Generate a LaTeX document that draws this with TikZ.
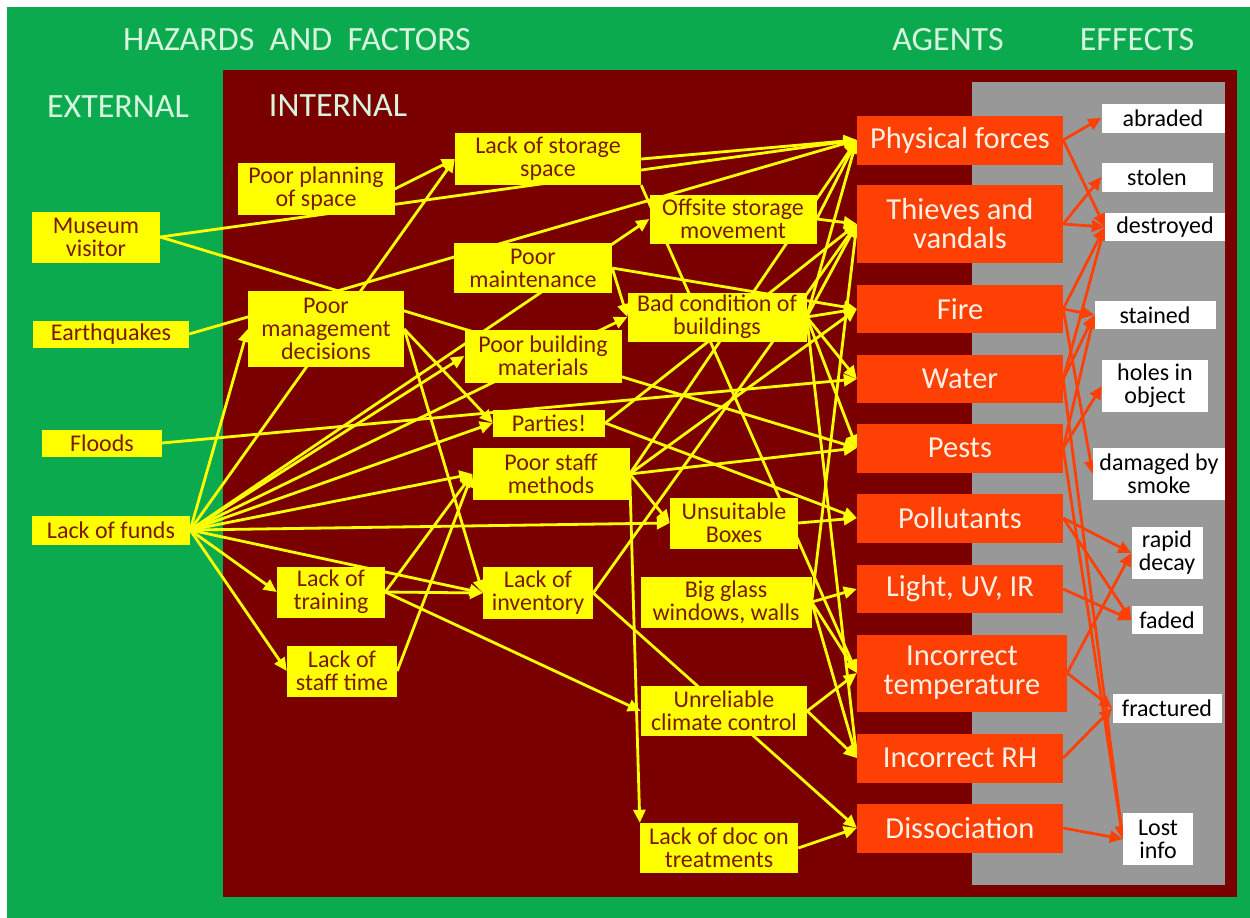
\documentclass[tikz,border=0pt]{standalone}
\usepackage{fontspec}
\setmainfont{Carlito}
\usetikzlibrary{arrows.meta}
\pgfdeclarelayer{bg}
\pgfdeclarelayer{edges}
\pgfsetlayers{bg,edges,main}
\definecolor{grn}{RGB}{11,170,78}
\definecolor{mar}{RGB}{122,0,0}
\definecolor{gry}{RGB}{152,152,152}
\definecolor{yel}{RGB}{255,255,0}
\definecolor{ytext}{RGB}{122,26,0}
\definecolor{agent}{RGB}{255,64,5}
\definecolor{atext}{RGB}{255,240,228}
\definecolor{head}{RGB}{215,245,222}
\tikzset{
  sz/.style 2 args={minimum width=#1pt, minimum height=#2pt},
  ybox/.style={fill=yel, text=ytext, font=\fontsize{24}{23}\selectfont, align=center, inner sep=0pt},
  abox/.style={fill=agent, text=atext, font=\fontsize{30.5}{29}\selectfont, align=center, inner sep=0pt, minimum width=206pt},
  ebox/.style={fill=white, text=black, font=\fontsize{24}{23}\selectfont, align=center, inner sep=0pt},
  hdr/.style={text=head, font=\fontsize{34}{34}\selectfont, inner sep=0pt},
  yarr/.style={draw=yel, line width=2.8pt, -{Triangle[length=13pt,width=12pt]}},
  rarr/.style={draw=agent, line width=2.8pt, -{Triangle[length=13pt,width=12pt]}},
}
\begin{document}
\begin{tikzpicture}[x=1pt,y=-1pt]
\useasboundingbox (0,0) rectangle (1250,918);
\begin{pgfonlayer}{bg}
  \fill[white] (0,0) rectangle (1250,918);
  \fill[grn] (7,7) rectangle (1250,918);
  \fill[mar] (223,70) rectangle (1237,897);
  \fill[gry] (972,82) rectangle (1225,885);
\end{pgfonlayer}
% headers
\node[hdr] (hHF) at (297,40) {HAZARDS\ \ AND\ \ FACTORS};
\node[hdr] (hAG) at (948,40) {AGENTS};
\node[hdr] (hEF) at (1137,40) {EFFECTS};
\node[hdr] (hEX) at (118,107) {EXTERNAL};
\node[hdr] (hIN) at (338,106) {INTERNAL};
% yellow factor boxes
\node[ybox, sz={128}{51}] (mus) at (96,237) {Museum\\visitor};
\node[ybox, sz={156}{27}] (quake) at (111,334) {Earthquakes};
\node[ybox, sz={120}{27}] (flood) at (102,443) {Floods};
\node[ybox, sz={158}{29}] (funds) at (111,530) {Lack of funds};
\node[ybox, sz={157}{52}] (plan) at (316,189) {Poor planning\\of space};
\node[ybox, sz={156}{76}] (mgmt) at (326,329) {Poor\\management\\decisions};
\node[ybox, sz={186}{52}] (storage) at (548,159) {Lack of storage\\space};
\node[ybox, sz={167}{49}] (offsite) at (733,219) {Offsite storage\\movement};
\node[ybox, sz={158}{50}] (maint) at (533,268) {Poor\\maintenance};
\node[ybox, sz={179}{49}] (badcond) at (717,317) {Bad condition of\\buildings};
\node[ybox, sz={157}{53}] (mater) at (543,356) {Poor building\\materials};
\node[ybox, sz={112}{27}] (parties) at (549,423) {Parties!};
\node[ybox, sz={157}{52}] (staffm) at (551,474) {Poor staff\\methods};
\node[ybox, sz={128}{51}] (boxes) at (734,523) {Unsuitable\\Boxes};
\node[ybox, sz={110}{52}] (inv) at (538,593) {Lack of\\inventory};
\node[ybox, sz={171}{51}] (glass) at (726,602) {Big glass\\windows, walls};
\node[ybox, sz={166}{50}] (unrel) at (724,711) {Unreliable\\climate control};
\node[ybox, sz={158}{50}] (doc) at (719,848) {Lack of doc on\\treatments};
\node[ybox, sz={108}{51}] (train) at (331,592) {Lack of\\training};
\node[ybox, sz={110}{51}] (stime) at (342,671) {Lack of\\staff time};
% agents
\node[abox, minimum height=49pt] (phys) at (960,140) {Physical forces};
\node[abox, minimum height=78pt] (thiev) at (960,224) {Thieves and\\vandals};
\node[abox, minimum height=48pt] (fire) at (960,309) {Fire};
\node[abox, minimum height=48pt] (water) at (960,379) {Water};
\node[abox, minimum height=49pt] (pests) at (960,448) {Pests};
\node[abox, minimum height=49pt] (poll) at (960,518) {Pollutants};
\node[abox, minimum height=48pt] (light) at (960,589) {Light, UV, IR};
\node[abox, minimum width=210pt, minimum height=77pt] (temp) at (962,673) {Incorrect\\temperature};
\node[abox, minimum height=49pt] (rh) at (960,758) {Incorrect RH};
\node[abox, minimum height=49pt] (diss) at (960,828) {Dissociation};
% effects
\node[ebox, sz={123}{29}] (abr) at (1163,118) {abraded};
\node[ebox, sz={111}{29}] (stol) at (1157,177) {stolen};
\node[ebox, sz={120}{28}] (destr) at (1165,227) {destroyed};
\node[ebox, sz={121}{28}] (stain) at (1155,315) {stained};
\node[ebox, sz={106}{52}] (holes) at (1155,386) {holes in\\object};
\node[ebox, sz={132}{52}] (smoke) at (1159,474) {damaged by\\smoke};
\node[ebox, sz={71}{52}] (rapid) at (1167,553) {rapid\\decay};
\node[ebox, sz={71}{28}] (faded) at (1167,620) {faded};
\node[ebox, sz={109}{29}] (fract) at (1167,708) {fractured};
\node[ebox, sz={70}{52}] (lost) at (1158,839) {Lost\\info};
% connectors
\begin{pgfonlayer}{edges}
\foreach \a/\b in {mus/phys, mus/pests, quake/phys, flood/water,
  funds/mgmt, funds/storage, funds/offsite, funds/mater, funds/badcond,
  funds/parties, funds/staffm, funds/boxes, funds/inv, funds/train, funds/stime,
  plan/storage, mgmt/parties, mgmt/inv, storage/phys, offsite/phys, offsite/thiev,
  maint/badcond, maint/fire, badcond/phys, badcond/thiev, badcond/fire,
  badcond/water, badcond/pests, badcond/rh, parties/poll, parties/thiev,
  staffm/pests, staffm/boxes, staffm/phys, staffm/fire, inv/thiev, inv/diss,
  train/inv, train/staffm, train/unrel, stime/staffm, boxes/poll,
  glass/light, glass/thiev, glass/temp, glass/rh, unrel/temp, unrel/rh, doc/diss}
  \draw[yarr] (\a.east) -- (\b.west);
\draw[yarr] (storage.south east) -- (temp.west);
\draw[yarr] (staffm.east) -- (doc.north west);
\foreach \a/\b in {phys/abr, phys/destr, thiev/stol, thiev/destr, fire/destr,
  fire/stain, fire/smoke, water/destr, water/stain, water/lost, pests/holes,
  pests/stain, pests/lost, poll/rapid, poll/faded, light/faded, temp/rapid,
  temp/fract, rh/fract, diss/lost}
  \draw[rarr] (\a.east) -- (\b.west);
\end{pgfonlayer}
\end{tikzpicture}
\end{document}
